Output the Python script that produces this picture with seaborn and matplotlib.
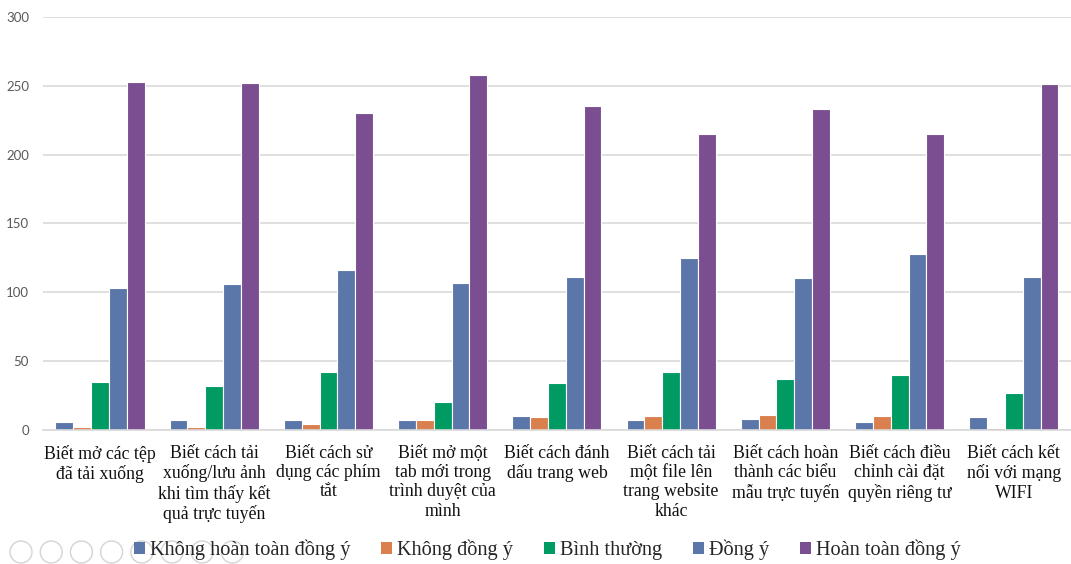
import matplotlib
matplotlib.use("Agg")
import matplotlib.pyplot as plt
import seaborn as sns
import pandas as pd
from matplotlib.patches import Ellipse, Patch

categories = [
    "Biết mở các tệp\nđã tải xuống",
    "Biết cách tải\nxuống/lưu ảnh\nkhi tìm thấy kết\nquả trực tuyến",
    "Biết cách sử\ndụng các phím\ntắt",
    "Biết mở một\ntab mới trong\ntrình duyệt của\nmình",
    "Biết cách đánh\ndấu trang web",
    "Biết cách tải\nmột file lên\ntrang website\nkhác",
    "Biết cách hoàn\nthành các biểu\nmẫu trực tuyến",
    "Biết cách điều\nchỉnh cài đặt\nquyền riêng tư",
    "Biết cách kết\nnối với mạng\nWIFI",
]
series_names = ["Không hoàn toàn đồng ý", "Không đồng ý", "Bình thường",
                "Đồng ý", "Hoàn toàn đồng ý"]
khong_hoan_toan = [6, 7, 7, 7, 10, 7, 8, 6, 9]
khong_dong_y = [2, 2, 4, 7, 9, 10, 11, 10, 1]
binh_thuong = [35, 32, 42, 20, 34, 42, 37, 40, 27]
dong_y = [103, 106, 116, 107, 111, 125, 110, 128, 111]
hoan_toan = [253, 252, 230, 258, 235, 215, 233, 215, 251]
y_ticks = [0, 50, 100, 150, 200, 250, 300]

colors = ["#5B77A9", "#D9804E", "#009A63", "#5B77A9", "#7A4E91"]

rows = []
for name, vals in zip(series_names, [khong_hoan_toan, khong_dong_y, binh_thuong,
                                     dong_y, hoan_toan]):
    for cat, v in zip(categories, vals):
        rows.append({"cat": cat, "series": name, "value": v})
df = pd.DataFrame(rows)

sns.set_theme(style="white")
fig = plt.figure(figsize=(10.71, 5.64), dpi=100)
ax = fig.add_axes([0.040, 0.238, 0.960, 0.732])

sns.barplot(data=df, x="cat", y="value", hue="series", hue_order=series_names,
            palette=colors, order=categories, width=0.78, saturation=1,
            edgecolor="white", linewidth=0.8, ax=ax, legend=False)

ax.set_ylim(0, 300)
ax.set_xlim(-0.5, len(categories) - 0.5)
ax.set_yticks(y_ticks)
ax.set_yticklabels([str(t) for t in y_ticks], fontsize=9.5, color="#595959",
                   family=["Lato", "DejaVu Sans"])
ax.tick_params(axis="y", length=0, pad=10)
ax.tick_params(axis="x", length=0, pad=11)
ax.set_xticks(range(len(categories)))
ax.set_xticklabels(categories, fontsize=12.8, family=["Liberation Serif"],
                   color="#111111", linespacing=1.17)
ax.set_xlabel("")
ax.set_ylabel("")
ax.grid(axis="y", color="#D9D9D9", linewidth=1.2)
ax.set_axisbelow(True)
for s in ["top", "right", "left"]:
    ax.spines[s].set_visible(False)
ax.spines["bottom"].set_color("#D9D9D9")
ax.spines["bottom"].set_linewidth(1.2)

# legend along the bottom
handles = [Patch(facecolor=c, edgecolor="none") for c in colors]
fig.legend(handles, series_names, loc="center", bbox_to_anchor=(0.511, 0.025),
           ncol=5, frameon=False, handlelength=0.55, handleheight=0.55,
           handletextpad=0.25, columnspacing=1.5,
           prop={"family": "Liberation Serif", "size": 14.6})

# faint slideshow control buttons at the lower left
W, H = 1071, 564
for i in range(8):
    cx = 21 + i * 30.2
    ring = Ellipse((cx / W, 1 - 552 / H), 22 / W, 22 / H, transform=fig.transFigure,
                   fill=False, edgecolor="#D4D4D4", linewidth=1.0, zorder=0)
    fig.patches.append(ring)

fig.savefig("out.png", dpi=100)
